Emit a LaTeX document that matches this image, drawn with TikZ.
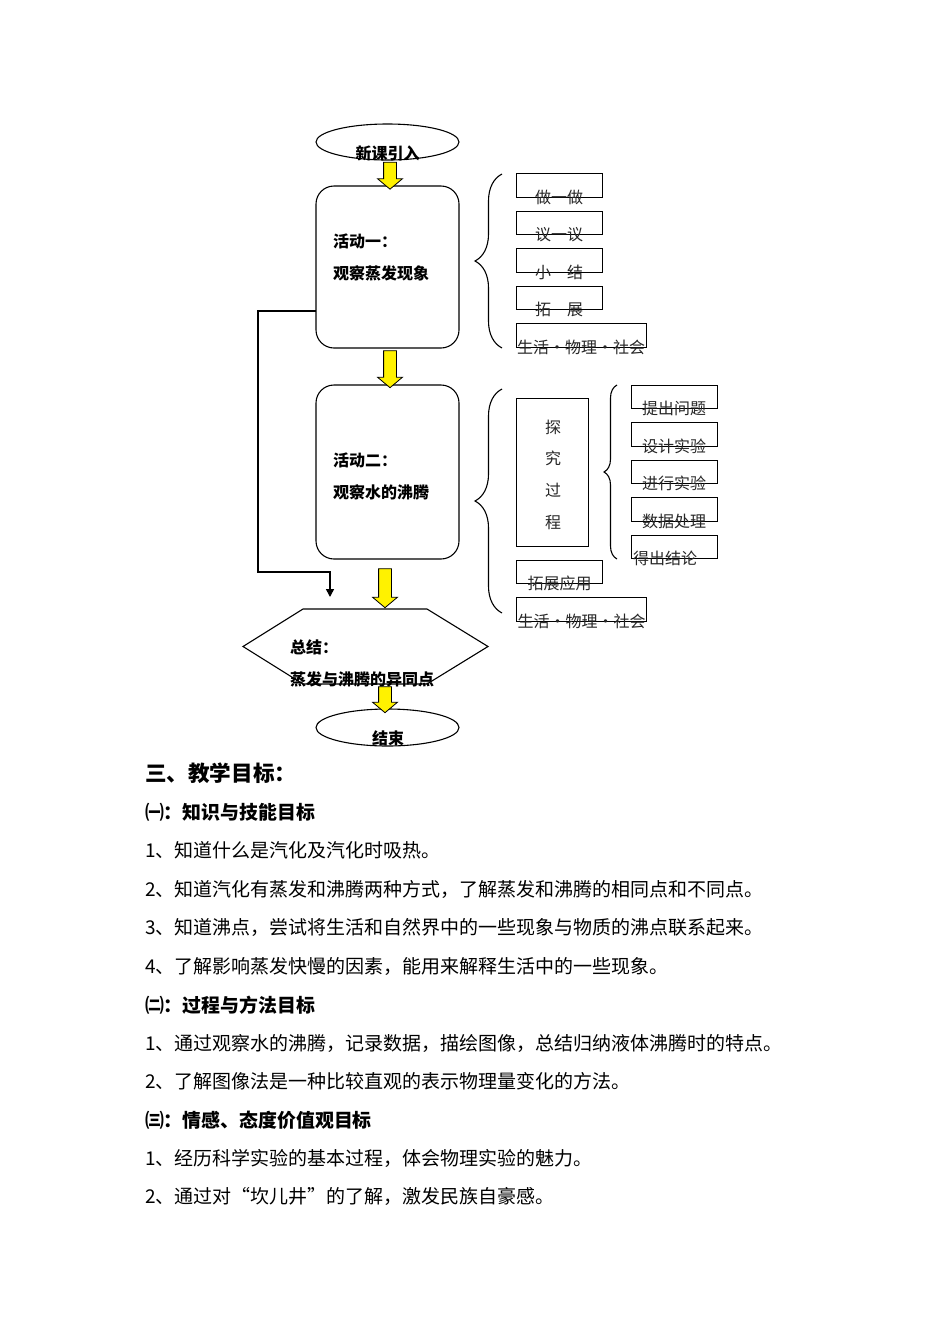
\documentclass[tikz,border=0pt]{standalone}
\usepackage{fontspec}
\setmainfont{Noto Sans CJK SC}
\usetikzlibrary{arrows.meta,positioning,shapes.geometric,shapes.arrows,decorations.pathreplacing}

\begin{document}
\begin{tikzpicture}[
    x=1pt, y=-1pt,
    node distance=14pt,
    every node/.style={inner sep=0pt, outer sep=0pt},
    terminal/.style={draw, ellipse, line width=1.1pt, minimum width=143pt, minimum height=36pt},
    activity/.style={draw, rounded corners=18pt, line width=1.1pt, minimum width=143pt},
    smallbox/.style={draw, line width=0.8pt, minimum width=86pt, minimum height=23.5pt},
    widebox/.style={draw, line width=0.8pt, minimum width=130pt, minimum height=23.5pt},
    chart/.style={font=\fontsize{16}{32}\selectfont\bfseries, align=left},
    boxtext/.style={font=\fontsize{16}{20}\selectfont, text=black!85},
    yarrow/.style={draw, fill=yellow, line width=0.8pt, single arrow, inner xsep=0pt, inner ysep=6pt,
        single arrow head extend=6pt, single arrow tip angle=100, minimum width=24pt, rotate=-90},
    curly/.style={line width=1.1pt, decorate, decoration={brace, amplitude=#1}},
    loopline/.style={line width=1.5pt, -{Triangle[width=8pt,length=8pt]}},
    heading/.style={anchor=west, font=\fontsize{21.6}{21.6}\selectfont\bfseries},
    subhead/.style={anchor=west, font=\fontsize{18.9}{18.9}\selectfont\bfseries},
    body/.style={anchor=west, font=\fontsize{19}{19}\selectfont}
]
\fill[white] (0,0) rectangle (950,1344);
\useasboundingbox (0,0) rectangle (950,1344);

\node[terminal] (intro) at (387.5,142) {};
\node[chart] at (387.5,153) {新课引入};
\node[activity, minimum height=162pt] (act1) at (387.5,267) {};
\node[chart, anchor=west] (act1text) at (333,257) {活动一：\\观察蒸发现象};
\node[activity, minimum height=174pt] (act2) at (387.5,472) {};
\node[chart, anchor=west] (act2text) at (333,476) {活动二：\\观察水的沸腾};
\node[minimum width=245pt, minimum height=75pt] (sum) at (365.5,646.5) {};
\draw[line width=1.1pt] (sum.west) -- ([xshift=60pt]sum.north west) -- ([xshift=-61pt]sum.north east)
    -- (sum.east) -- ([xshift=-61pt]sum.south east) -- ([xshift=60pt]sum.south west) -- cycle;
\node[chart, anchor=west] (sumtext) at (290,663) {总结：\\蒸发与沸腾的异同点};
\node[terminal, minimum height=37pt] (end) at (387.5,727.5) {};
\node[chart] at (388,738) {结束};

\node[yarrow, minimum height=27pt] (arr1) at (390,173) {};
\node[yarrow, minimum height=37pt] (arr2) at (390,366.5) {};
\node[yarrow, minimum height=39pt] (arr3) at (385,585.5) {};
\node[yarrow, minimum height=26pt] (arr4) at (385,697) {};

\coordinate (loopend) at (330,597);
\draw[loopline] ([yshift=-44pt]act1.west) -| (258,572) -| (loopend);

% activity one
\node[smallbox] (doit) at (559,185.5) {};
\node[smallbox, below=of doit] (discuss) {};
\node[smallbox, below=of discuss] (wrapup) {};
\node[smallbox, below=of wrapup] (extend) {};
\node[widebox, below right=14pt and 0pt of extend.south west] (life1) {};
\node[boxtext] at (doit.south) {做一做};
\node[boxtext] at (discuss.south) {议一议};
\node[boxtext] at (wrapup.south) {小　结};
\node[boxtext] at (extend.south) {拓　展};
\node[boxtext] at (life1.south) {生活·物理·社会};
\draw[curly=27pt] (502,348) -- (502,174);

% activity two
\node[draw, line width=0.8pt, minimum width=72pt, minimum height=148pt] (inquiry) at (552,472) {};
\node[boxtext, align=center, font=\fontsize{16}{31.7}\selectfont] at (553,474.5) {探\\究\\过\\程};
\node[smallbox] (ask) at (674,397) {};
\node[smallbox, below=of ask] (design) {};
\node[smallbox, below=of design] (perform) {};
\node[smallbox, below=of perform] (process) {};
\node[smallbox, below=of process] (conclude) {};
\node[boxtext] at (ask.south) {提出问题};
\node[boxtext] at (design.south) {设计实验};
\node[boxtext] at (perform.south) {进行实验};
\node[boxtext] at (process.south) {数据处理};
\node[boxtext, anchor=west] at ([xshift=2pt]conclude.south west) {得出结论};
\node[smallbox] (apply) at (559.5,572) {};
\node[widebox, below right=14pt and 0pt of apply.south west] (life2) {};
\node[boxtext] at (apply.south) {拓展应用};
\node[boxtext] at (life2.south) {生活·物理·社会};
\draw[curly=27pt] (502,613) -- (502,389);
\draw[curly=13pt] (617,559) -- (617,385);

% goals
\node[heading] (goals) at (145,773) {三、教学目标：};
\node[subhead] (goalA) at (145,812) {㈠：知识与技能目标};
\node[body] at (145,850) {1、知道什么是汽化及汽化时吸热。};
\node[body] at (145,889) {2、知道汽化有蒸发和沸腾两种方式，了解蒸发和沸腾的相同点和不同点。};
\node[body] at (145,927) {3、知道沸点，尝试将生活和自然界中的一些现象与物质的沸点联系起来。};
\node[body] at (145,966) {4、了解影响蒸发快慢的因素，能用来解释生活中的一些现象。};
\node[subhead] (goalB) at (145,1005) {㈡：过程与方法目标};
\node[body] at (145,1043) {1、通过观察水的沸腾，记录数据，描绘图像，总结归纳液体沸腾时的特点。};
\node[body] at (145,1081) {2、了解图像法是一种比较直观的表示物理量变化的方法。};
\node[subhead] (goalC) at (145,1120) {㈢：情感、态度价值观目标};
\node[body] at (145,1158) {1、经历科学实验的基本过程，体会物理实验的魅力。};
\node[body] at (145,1196) {2、通过对“坎儿井”的了解，激发民族自豪感。};
\end{tikzpicture}
\end{document}
